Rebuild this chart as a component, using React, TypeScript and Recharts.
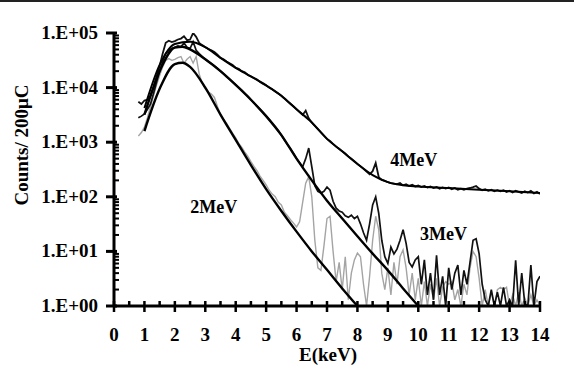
import React from 'react';
import { LineChart, Line, XAxis, YAxis, ReferenceDot } from 'recharts';

const FONT = '"Liberation Serif", "Times New Roman", serif';

// measured spectra, 0.1 keV bins from 0.8 to 14.0 keV
const energy = [
  0.8, 0.9,
  1.0, 1.1, 1.2, 1.3, 1.4, 1.5, 1.6, 1.7, 1.8, 1.9,
  2.0, 2.1, 2.2, 2.3, 2.4, 2.5, 2.6, 2.7, 2.8, 2.9,
  3.0, 3.1, 3.2, 3.3, 3.4, 3.5, 3.6, 3.7, 3.8, 3.9,
  4.0, 4.1, 4.2, 4.3, 4.4, 4.5, 4.6, 4.7, 4.8, 4.9,
  5.0, 5.1, 5.2, 5.3, 5.4, 5.5, 5.6, 5.7, 5.8, 5.9,
  6.0, 6.1, 6.2, 6.3, 6.4, 6.5, 6.6, 6.7, 6.8, 6.9,
  7.0, 7.1, 7.2, 7.3, 7.4, 7.5, 7.6, 7.7, 7.8, 7.9,
  8.0, 8.1, 8.2, 8.3, 8.4, 8.5, 8.6, 8.7, 8.8, 8.9,
  9.0, 9.1, 9.2, 9.3, 9.4, 9.5, 9.6, 9.7, 9.8, 9.9,
  10.0, 10.1, 10.2, 10.3, 10.4, 10.5, 10.6, 10.7, 10.8, 10.9,
  11.0, 11.1, 11.2, 11.3, 11.4, 11.5, 11.6, 11.7, 11.8, 11.9,
  12.0, 12.1, 12.2, 12.3, 12.4, 12.5, 12.6, 12.7, 12.8, 12.9,
  13.0, 13.1, 13.2, 13.3, 13.4, 13.5, 13.6, 13.7, 13.8, 13.9,
  14.0,
];

const counts2MeV = [
  1300, 1500,
  1900, 2800, 4500, 7100, 11200, 16600, 24000, 31600, 34000, 31600,
  33000, 35500, 37000, 28000, 33000, 37000, 28000, 37000, 17800, 12000,
  9500, 8300, 7600, 6600, 4500, 3200, 2600, 2200, 1800, 1450,
  1200, 950, 800, 660, 550, 440, 360, 300, 240, 200,
  166, 132, 112, 100, 79, 71, 52, 45, 38, 33,
  28, 35, 79, 178, 234, 100, 16, 5, 4.5, 12.6,
  40, 44, 10, 2.8, 6.3, 2, 8, 1.3, 4, 7,
  9.3, 8, 2.5, 1, 3.5, 16, 44, 25, 4, 2,
  5, 1.6, 6.3, 2.5, 8, 10.7, 5, 1.6, 4, 1.3,
  3.2, 1, 2.8, 1, 2.5, 1.3, 3.2, 1, 2.2, 2.8,
  2.5, 2.8, 1.3, 2, 1, 2.5, 1.6, 5, 10, 8,
  3.2, 1, 2, 1, 1.8, 1, 2, 2.2, 2, 2.2,
  1, 1.6, 1, 1.8, 1, 1.4, 1, 1.6, 1, 1.3,
  1,
];

const counts3MeV = [
  2800, 3000,
  3300, 4000, 5000, 7900, 12600, 20000, 30000, 42000, 48000, 52000,
  55000, 58000, 56000, 66000, 55000, 52000, 69000, 48000, 42000, 37000,
  33000, 30000, 27500, 25000, 22400, 20000, 17800, 15800, 14100, 12600,
  11200, 10000, 8900, 7800, 6900, 6000, 5200, 4600, 4000, 3500,
  3000, 2600, 2200, 1900, 1600, 1350, 1100, 910, 760, 620,
  500, 420, 355, 500, 780, 355, 160, 126, 117, 126,
  151, 132, 83, 62, 55, 52, 45, 42, 46, 40,
  44, 32, 22, 16, 32, 71, 100, 50, 16, 8,
  6, 12, 9, 11, 16, 25, 14, 6.3, 5.2, 7,
  8, 2.5, 7, 1.6, 4, 1.3, 8.5, 1.6, 3.5, 1,
  5, 2, 4, 5.6, 1.6, 4.5, 2.5, 6.3, 16, 17,
  9, 2.5, 1.3, 1, 2, 1, 1.8, 1, 2.2, 1,
  1.3, 1, 6.9, 1, 4, 1.1, 1, 5.6, 1, 2.8,
  3.5,
];

const counts4MeV = [
  5500, 5000,
  5800, 6000, 7100, 10000, 16000, 25000, 42000, 66000, 72000, 68000,
  71000, 76000, 79000, 87000, 74000, 76000, 100000, 85000, 66000, 60000,
  55000, 51000, 48000, 45000, 40000, 35000, 33000, 30000, 28000, 26000,
  23000, 22000, 20000, 19000, 17000, 16000, 15000, 14000, 12600, 11700,
  11000, 10000, 9300, 8500, 7800, 7100, 6300, 5600, 5000, 4500,
  4000, 3550, 3150, 3800, 2750, 2300, 2000, 1740, 1510, 1320,
  1150, 1050, 930, 830, 760, 680, 620, 550, 500, 450,
  400, 360, 325, 290, 258, 295, 417, 230, 204, 195,
  185, 178, 174, 170, 178, 162, 170, 158, 166, 155,
  162, 151, 158, 148, 155, 145, 151, 141, 148, 141,
  148, 138, 145, 135, 141, 135, 141, 145, 151, 158,
  141, 132, 138, 129, 135, 126, 132, 126, 132, 123,
  129, 120, 129, 123, 117, 126, 120, 129, 115, 123,
  112,
];

// smooth fitted curves
const fit2Energy = [1, 1.5, 2, 2.25, 2.5, 3, 3.5, 4, 4.5, 5, 5.5, 6, 6.5, 7, 7.5, 8];
const fit2Counts = [1600, 9500, 27000, 28500, 24000, 10000, 3200, 1100, 380, 138, 55, 23, 10, 4.6, 2.1, 1];

const fit3Energy = [1, 1.5, 2, 2.25, 2.5, 3, 3.5, 4, 4.5, 5, 5.5, 6, 6.5, 7, 7.5, 8, 8.5, 9, 9.5, 10];
const fit3Counts = [3200, 20000, 54000, 56000, 50000, 33000, 20000, 11200, 6000, 3000, 1350, 500, 200, 85, 40, 19, 9.1, 4.5, 2.1, 1];

const fit4Energy = [1, 1.5, 2, 2.5, 3, 3.5, 4, 4.5, 5, 5.5, 6, 6.5, 7, 7.5, 8, 8.5, 9, 9.5, 10, 11, 12, 13, 14];
const fit4Counts = [4200, 26000, 63000, 69000, 55000, 35000, 23000, 16000, 11000, 7100, 4000, 2300, 1150, 680, 400, 250, 186, 162, 155, 145, 135, 126, 117];

const xTicks = [
  0, 0.5, 1, 1.5, 2, 2.5, 3, 3.5, 4, 4.5, 5, 5.5, 6, 6.5, 7,
  7.5, 8, 8.5, 9, 9.5, 10, 10.5, 11, 11.5, 12, 12.5, 13, 13.5, 14,
];
const yMajorTicks = [1, 10, 100, 1000, 10000, 100000];
const yTickLabels = ['1.E+00', '1.E+01', '1.E+02', '1.E+03', '1.E+04', '1.E+05'];
const yTicks = [
  1, 2, 3, 4, 5, 6, 7, 8, 9,
  10, 20, 30, 40, 50, 60, 70, 80, 90,
  100, 200, 300, 400, 500, 600, 700, 800, 900,
  1000, 2000, 3000, 4000, 5000, 6000, 7000, 8000, 9000,
  10000, 20000, 30000, 40000, 50000, 60000, 70000, 80000, 90000,
  100000,
];

const seriesLabels = [
  { text: '2MeV', e: 3.28, c: 65 },
  { text: '3MeV', e: 10.83, c: 21 },
  { text: '4MeV', e: 9.85, c: 470 },
];

const spectrum = energy.map((e, i) => ({
  e,
  c2: counts2MeV[i],
  c3: counts3MeV[i],
  c4: counts4MeV[i],
}));

const toRows = (es: number[], cs: number[]) => es.map((e, i) => ({ e, v: cs[i] }));
const fit2 = toRows(fit2Energy, fit2Counts);
const fit3 = toRows(fit3Energy, fit3Counts);
const fit4 = toRows(fit4Energy, fit4Counts);

const textStyle = { fontFamily: FONT, fontWeight: 700, fontSize: 19, fill: '#000' };

function YTick(props: any) {
  const { x, y, payload } = props;
  const idx = yMajorTicks.indexOf(payload.value);
  if (idx < 0) {
    return <line x1={x} x2={x + 5} y1={y} y2={y} stroke="#000" strokeWidth={2} />;
  }
  return (
    <g>
      <line x1={x - 8} x2={x + 3} y1={y} y2={y} stroke="#000" strokeWidth={3} />
      <text x={x - 16} y={y + 6} textAnchor="end" style={textStyle}>
        {yTickLabels[idx]}
      </text>
    </g>
  );
}

function XTick(props: any) {
  const { x, y, payload } = props;
  const v = payload.value;
  if (!Number.isInteger(v)) {
    return <line x1={x} x2={x} y1={y - 5} y2={y} stroke="#000" strokeWidth={2.5} />;
  }
  return (
    <g>
      <line x1={x} x2={x} y1={y - 5} y2={y + 6} stroke="#000" strokeWidth={2.5} />
      <text x={x} y={y + 35} textAnchor="middle" style={textStyle}>
        {v}
      </text>
    </g>
  );
}

export default function App() {
  return (
    <div
      style={{
        position: 'absolute',
        left: 0,
        top: 0,
        width: 574,
        height: 368,
        background: '#fff',
        overflow: 'hidden',
      }}
    >
      <div style={{ position: 'absolute', left: 0, top: 0, width: 574, height: 2, background: '#222' }} />
      <LineChart width={574} height={368} margin={{ top: 33, right: 34, bottom: 0, left: 0 }}>
        <XAxis
          type="number"
          dataKey="e"
          domain={[0, 14]}
          ticks={xTicks}
          interval={0}
          height={62}
          tickSize={0}
          tickMargin={0}
          tickLine={false}
          tick={(p: any) => <XTick {...p} />}
          axisLine={{ stroke: '#000', strokeWidth: 3 }}
          allowDataOverflow
        />
        <YAxis
          type="number"
          scale="log"
          domain={[1, 100000]}
          ticks={yTicks}
          interval={0}
          width={114}
          tickSize={0}
          tickMargin={0}
          tickLine={false}
          tick={(p: any) => <YTick {...p} />}
          axisLine={{ stroke: '#000', strokeWidth: 3 }}
          allowDataOverflow
        />
        <Line
          data={spectrum}
          dataKey="c2"
          type="linear"
          stroke="#a4a4a4"
          strokeWidth={1.4}
          dot={false}
          isAnimationActive={false}
        />
        <Line
          data={spectrum}
          dataKey="c3"
          type="linear"
          stroke="#111"
          strokeWidth={1.7}
          dot={false}
          isAnimationActive={false}
        />
        <Line
          data={spectrum}
          dataKey="c4"
          type="linear"
          stroke="#111"
          strokeWidth={1.8}
          dot={false}
          isAnimationActive={false}
        />
        <Line data={fit2} dataKey="v" type="monotone" stroke="#000" strokeWidth={2.4} dot={false} isAnimationActive={false} />
        <Line data={fit3} dataKey="v" type="monotone" stroke="#000" strokeWidth={2.4} dot={false} isAnimationActive={false} />
        <Line data={fit4} dataKey="v" type="monotone" stroke="#000" strokeWidth={2} dot={false} isAnimationActive={false} />
        {seriesLabels.map((l) => (
          <ReferenceDot
            key={l.text}
            x={l.e}
            y={l.c}
            r={0}
            fill="none"
            stroke="none"
            label={{ value: l.text, position: 'center', style: { ...textStyle, fontSize: 18 } }}
          />
        ))}
      </LineChart>
      <div
        style={{
          position: 'absolute',
          left: 278,
          top: 345,
          width: 100,
          textAlign: 'center',
          fontFamily: FONT,
          fontWeight: 700,
          fontSize: 19,
          lineHeight: '20px',
          color: '#000',
        }}
      >
        E(keV)
      </div>
      <div
        style={{
          position: 'absolute',
          left: -78,
          top: 134,
          width: 200,
          height: 22,
          lineHeight: '22px',
          textAlign: 'center',
          transform: 'rotate(-90deg)',
          fontFamily: FONT,
          fontWeight: 700,
          fontSize: 19,
          color: '#000',
          whiteSpace: 'nowrap',
        }}
      >
        Counts/ 200μC
      </div>
    </div>
  );
}
